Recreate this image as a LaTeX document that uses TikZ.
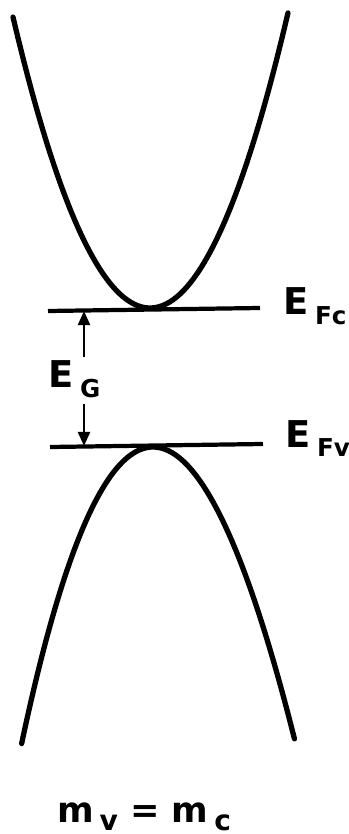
\documentclass[tikz,border=0pt]{standalone}
\usepackage{fontspec}
\setmainfont{DejaVu Sans}
\usetikzlibrary{arrows.meta}

\begin{document}
\begin{tikzpicture}[x=0.01cm,y=-0.01cm,
    band/.style={line width=1.5pt,line cap=round},
    level/.style={line width=1.2pt},
    gap/.style={line width=0.7pt,-{Triangle[length=4pt,width=3.4pt]}},
    lbl/.style={inner sep=0pt,font=\bfseries\fontsize{10.5}{12}\selectfont}]
          \useasboundingbox(0,0)rectangle(349,834);
          \draw[band]plot[domain=-1.37:1.38,samples=80,smooth]({150+100*\x},{308-155*\x*\x});
          \draw[band]plot[domain=-1.37:1.36,samples=80,smooth]({153+100*\x+3*\x*\x},{447+158*\x*\x});
          \coordinate(fcl)at(48,311);\coordinate(fcr)at(260,308);
          \coordinate(fvl)at(50,447);\coordinate(fvr)at(263,444);
          \draw[level](fcl)--(fcr);
          \draw[level](fvl)--(fvr);
          \node[lbl,anchor=base west](efc)at(283,315){E\,\raisebox{-2.6pt}{\fontsize{7}{8}\selectfont Fc}};
          \node[lbl,anchor=base west](efv)at(285,447){E\,\raisebox{-2.6pt}{\fontsize{7}{8}\selectfont Fv}};
          \node[lbl,anchor=base west](eg)at(48,388){E\,\raisebox{-2.6pt}{\fontsize{7}{8}\selectfont G}};
          \coordinate(gtop)at(84,311);\coordinate(gbot)at(84,446);
          \coordinate(gup)at(84,357);\coordinate(gdn)at(84,404);
          \draw[gap](gup)--(gtop);
          \draw[gap](gdn)--(gbot);
          \node[lbl,anchor=base](mass)at(144,822){\fontsize{10}{12}\selectfont m\,\raisebox{-2.3pt}{\fontsize{8}{9}\selectfont v} = m\,\raisebox{-2.3pt}{\fontsize{8}{9}\selectfont c}};
        \end{tikzpicture}
\end{document}
